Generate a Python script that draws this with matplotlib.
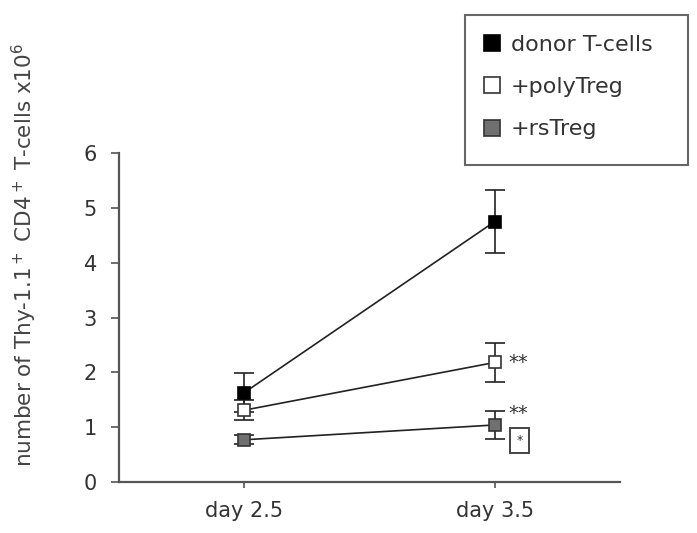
import numpy as np
import matplotlib.pyplot as plt
from matplotlib.lines import Line2D
from matplotlib.patches import Rectangle

# ============ DADOS ============
dias = ['day 2.5', 'day 3.5']
donor = [1.63, 4.75]
donor_err = [0.36, 0.57]
poly = [1.31, 2.18]
poly_err = [0.18, 0.36]
rs = [0.77, 1.04]
rs_err = [0.08, 0.25]

series = [
    ('donor T-cells', donor, donor_err, 'black', 'black'),
    ('+polyTreg', poly, poly_err, 'white', '#333333'),
    ('+rsTreg', rs, rs_err, '#707070', '#333333'),
]

# ============ FIGURA ============
fig = plt.figure(figsize=(6.97, 5.33), dpi=100)
ax = fig.add_axes([119/697, 1 - 482/533, 501/697, 329/533])

x = np.arange(len(dias))
for nome, y, err, fc, ec in series:
    ax.plot(x, y, '-', color='#222222', linewidth=1.2, zorder=2)
    ax.errorbar(x, y, yerr=err, fmt='none', ecolor='#222222', elinewidth=1.2,
                capsize=7.5, capthick=1.2, zorder=3)
    ax.plot(x, y, 's', markersize=8.5, markerfacecolor=fc, markeredgecolor=ec,
            markeredgewidth=1.2, linestyle='none', zorder=4)

# asteriscos
ax.annotate('**', xy=(1, poly[1]), xytext=(10, 0), textcoords='offset points',
            fontsize=14, color='#333333', va='center', ha='left')
ax.annotate('**', xy=(1, rs[1]), xytext=(10, 8), textcoords='offset points',
            fontsize=14, color='#333333', va='center', ha='left')
ax.annotate('*', xy=(1, rs[1]), xytext=(15.5, -11), textcoords='offset points',
            fontsize=9, color='#333333', va='center', ha='left',
            bbox=dict(boxstyle='square,pad=0.5', fc='white', ec='#444444', lw=1.4))

ax.set_xlim(-0.5, 1.5)
ax.set_ylim(0, 6)
ax.set_xticks(x)
ax.set_xticklabels(dias, fontsize=15, color='#333333')
ax.set_yticks(range(7))
ax.set_yticklabels([str(i) for i in range(7)], fontsize=15, color='#333333')
ax.tick_params(axis='y', direction='out', length=6, width=1.2, color='#555555', pad=10)
ax.tick_params(axis='x', direction='out', length=4, width=1.2, color='#555555', pad=10)
for s in ['top', 'right']:
    ax.spines[s].set_visible(False)
for s in ['left', 'bottom']:
    ax.spines[s].set_color('#555555')
    ax.spines[s].set_linewidth(1.6)

ax.set_ylabel('number of Thy-1.1$^+$ CD4$^+$ T-cells x10$^6$', fontsize=15.5,
              color='#444444')
ax.yaxis.set_label_coords(-0.16, 0.69)

# ============ LEGENDA ============
fig.patches.append(Rectangle((465/697, 1 - 165/533), 223/697, 150/533,
                             transform=fig.transFigure, fill=False,
                             edgecolor='#666666', linewidth=1.5))
handles = [Line2D([], [], marker='s', linestyle='none', markersize=11,
                  markerfacecolor=fc, markeredgecolor=ec, markeredgewidth=1.2)
           for _, _, _, fc, ec in series]
labels = [s[0] for s in series]
leg = fig.legend(handles, labels, loc='upper left',
                 bbox_to_anchor=(483/697, 1 - 35/533), fontsize=16,
                 frameon=False, handlelength=0.8, handletextpad=0.45,
                 borderpad=0, labelspacing=1.0, borderaxespad=0)
for t in leg.get_texts():
    t.set_color('#333333')

fig.savefig('out.png', dpi=100)
